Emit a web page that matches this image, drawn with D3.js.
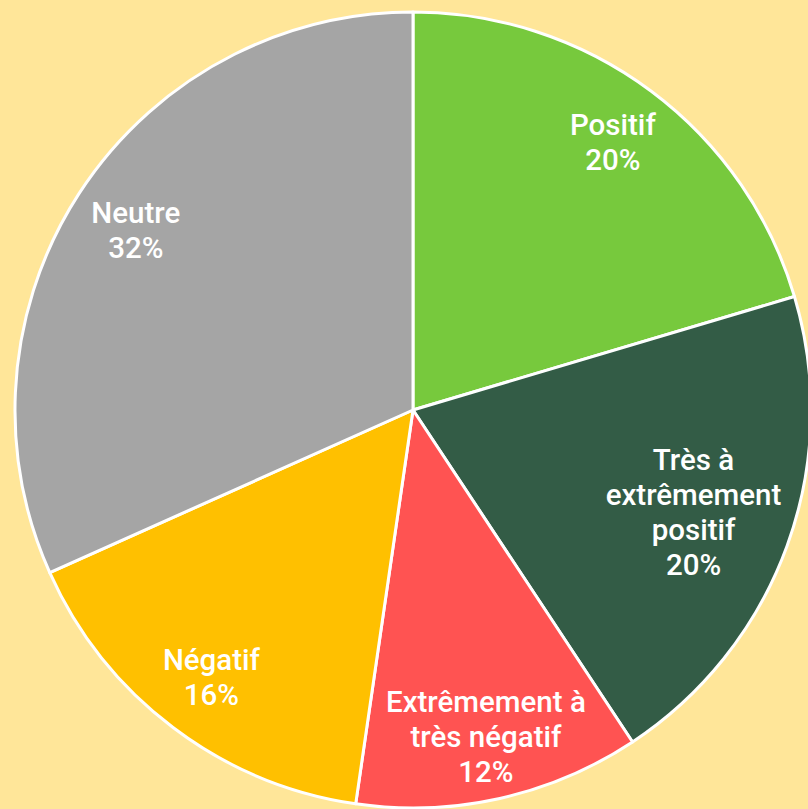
<!DOCTYPE html>
<html><head><meta charset="utf-8">
<script src="https://cdn.jsdelivr.net/npm/d3@7"></script>
<style>html,body{margin:0;padding:0;background:#FFE699;overflow:hidden}</style>
</head><body>
<svg id="chart" width="808" height="809"></svg>
<script>
const categories = ["Positif", "Très à extrêmement positif", "Extrêmement à très négatif", "Négatif", "Neutre"];
const labelLines = [["Positif"], ["Très à", "extrêmement", "positif"], ["Extrêmement à", "très négatif"], ["Négatif"], ["Neutre"]];
const values = [20.4, 20.3, 11.6, 16.0, 31.7];
const colors = ["#77C93D", "#335C46", "#FF5352", "#FFC000", "#A5A5A5"];

const W = 808, H = 809, cx = 413, cy = 410, R = 398;
const svg = d3.select("#chart");
svg.append("rect").attr("width", W).attr("height", H).attr("fill", "#FFE699");
const g = svg.append("g").attr("transform", `translate(${cx},${cy})`);
const total = d3.sum(values);
const pie = d3.pie().sort(null).value(d => d)(values);
const arc = d3.arc().innerRadius(0).outerRadius(R);
g.selectAll("path").data(pie).join("path")
  .attr("d", arc).attr("fill", (d, i) => colors[i])
  .attr("stroke", "#fff").attr("stroke-width", 3).attr("stroke-linejoin", "round");

const fs = 29.5, lh = 35;
const ctx = document.createElement("canvas").getContext("2d");
ctx.font = `500 ${fs}px Roboto`;
pie.forEach((d, i) => {
  const lines = labelLines[i].concat([Math.round(values[i] / total * 100) + "%"]);
  const a = (d.startAngle + d.endAngle) / 2;
  let k = 0.84, px, py;
  for (; k > 0.4; k -= 0.005) {
    px = Math.sin(a) * k * R; py = -Math.cos(a) * k * R;
    let ok = true;
    lines.forEach((t, j) => {
      const w = ctx.measureText(t).width;
      const ly = py + (j - (lines.length - 1) / 2) * lh;
      [px - w / 2, px + w / 2].forEach(x => { if (Math.hypot(x, ly) > 0.95 * R) ok = false; });
    });
    if (ok) break;
  }
  const t = g.append("text").attr("text-anchor", "middle")
    .attr("font-family", "Roboto").attr("font-weight", 500).attr("font-size", fs).attr("fill", "#fff");
  lines.forEach((s, j) => {
    t.append("tspan").attr("x", px).attr("y", py + (j - (lines.length - 1) / 2) * lh)
      .attr("dy", "0.35em").text(s);
  });
});
</script>
</body></html>
